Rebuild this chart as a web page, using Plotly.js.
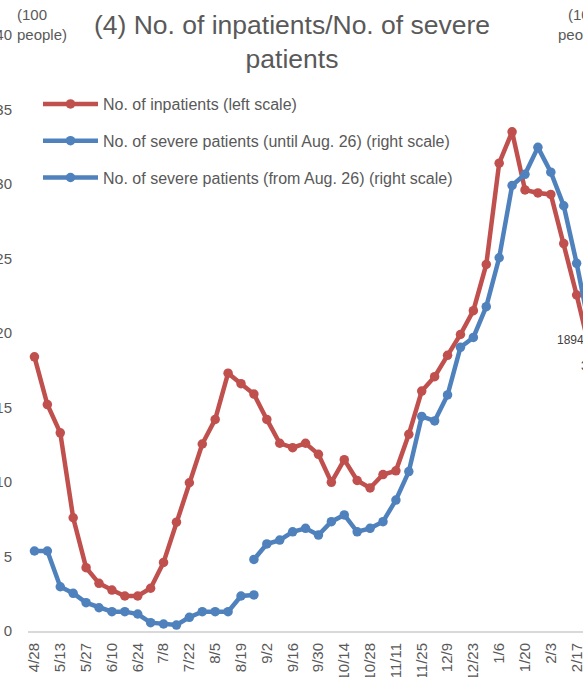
<!DOCTYPE html>
<html>
<head>
<meta charset="utf-8">
<script src="https://cdn.plot.ly/plotly-3.0.1.min.js"></script>
<style>
html,body{margin:0;padding:0;width:583px;height:677px;overflow:hidden;background:#fff;}
#chart{position:absolute;left:-30px;top:0;width:686px;height:677px;}
</style>
</head>
<body>
<div id="chart"></div>
<script>
// Weekly dates (every other one is labelled on the axis)
const weeks = ["4/28","5/6","5/13","5/20","5/27","6/3","6/10","6/17","6/24","7/1","7/8","7/15","7/22","7/29","8/5","8/12","8/19","8/26","9/2","9/9","9/16","9/23","9/30","10/7","10/14","10/21","10/28","11/4","11/11","11/18","11/25","12/2","12/9","12/16","12/23","12/30","1/6","1/13","1/20","1/27","2/3","2/10","2/17","2/24"];
const tickLabels = ["4/28","5/13","5/27","6/10","6/24","7/8","7/22","8/5","8/19","9/2","9/16","9/30","10/14","10/28","11/11","11/25","12/9","12/23","1/6","1/20","2/3","2/17"];

// No. of inpatients (left scale, 100 people)
const inpatients = [18.4,15.2,13.3,7.6,4.25,3.2,2.75,2.35,2.35,2.87,4.6,7.3,9.95,12.55,14.2,17.3,16.6,15.9,14.2,12.6,12.3,12.6,11.86,9.98,11.5,10.1,9.6,10.5,10.75,13.2,16.1,17.07,18.5,19.9,21.5,24.6,31.4,33.5,29.6,29.4,29.3,26.0,22.55,18.94];
// No. of severe patients (right scale)
const severeUntil = [5.37,5.37,2.97,2.53,1.9,1.56,1.3,1.3,1.14,0.56,0.47,0.4,0.92,1.3,1.3,1.3,2.35,2.42];
const severeFrom = [4.8,5.84,6.1,6.66,6.89,6.44,7.34,7.79,6.66,6.89,7.34,8.79,10.7,14.4,14.1,15.84,19.04,19.7,21.77,25.05,29.9,30.65,32.46,30.79,28.54,24.68,20.3];
const severeFromStart = 17;

const RED = "#c0504d", BLUE = "#4f81bd", TXT = "#595959";
const FONT = "Liberation Sans, Arial, sans-serif";

const untilY = weeks.map((d,i)=> i < severeUntil.length ? severeUntil[i] : null);
const fromY = weeks.map((d,i)=> i >= severeFromStart ? severeFrom[i-severeFromStart] : null);

const traces = [
  {x: weeks, y: inpatients, name: "No. of inpatients (left scale)", type: "scatter", mode: "lines+markers",
   line: {color: RED, width: 4.5}, marker: {color: RED, size: 9.5}, legendgroup: "a"},
  {x: weeks, y: untilY, name: "No. of severe patients (until Aug. 26) (right scale)", type: "scatter", mode: "lines+markers",
   yaxis: "y2", line: {color: BLUE, width: 4.5}, marker: {color: BLUE, size: 9.5}, connectgaps: false, legendgroup: "b"},
  {x: weeks, y: fromY, name: "No. of severe patients (from Aug. 26) (right scale)", type: "scatter", mode: "lines+markers",
   yaxis: "y2", line: {color: BLUE, width: 4.5}, marker: {color: BLUE, size: 9.5}, connectgaps: false, legendgroup: "c"}
];

const OFF = 30, L = 58, R = 60, T = 35, B = 46, W = 686, H = 677;
const PW = W - L - R, PH = H - T - B;
const px = p => (p + OFF - L) / PW;          // page x -> paper x
const py = p => (T + PH - p) / PH;           // page y -> paper y

const layout = {
  width: W, height: H,
  margin: {l: L, r: R, t: T, b: B, pad: 0},
  paper_bgcolor: "#fff", plot_bgcolor: "#fff",
  font: {family: FONT, color: TXT},
  title: {text: "(4) No. of inpatients/No. of severe<br>patients", font: {size: 26.5, color: TXT, family: FONT},
          x: (292 + OFF) / W, xanchor: "center", xref: "container", y: 1 - 34 / H, yanchor: "top", yref: "container"},
  showlegend: true,
  legend: {x: px(38), xanchor: "left", y: py(87), yanchor: "top", font: {size: 16, color: TXT, family: FONT},
           bgcolor: "rgba(0,0,0,0)", traceorder: "grouped", tracegroupgap: 13, itemwidth: 55},
  xaxis: {type: "category", range: [-0.5, weeks.length - 0.5], tickmode: "array", tickvals: tickLabels, ticktext: tickLabels,
          tickangle: -90, ticks: "", showgrid: false, zeroline: false, showline: true, linecolor: "#d9d9d9", linewidth: 2,
          tickfont: {size: 15, color: TXT}, ticklabelstandoff: 4},
  yaxis: {range: [0, 40], dtick: 5, showgrid: false, zeroline: false, showline: false, ticks: "",
          tickfont: {size: 15, color: TXT}, ticklabelstandoff: 15},
  yaxis2: {range: [0, 40], dtick: 5, overlaying: "y", side: "right", showgrid: false, zeroline: false, showline: false, ticks: "",
           tickfont: {size: 15, color: TXT}, ticklabelstandoff: 14},
  annotations: [
    {text: "(100<br>people)", xref: "paper", yref: "paper", x: px(15), y: py(4), xanchor: "left", yanchor: "top",
     align: "left", showarrow: false, font: {size: 15, color: TXT}},
    {text: "(100<br>people)", xref: "paper", yref: "paper", x: px(583), y: py(4), xanchor: "center", yanchor: "top",
     align: "center", showarrow: false, font: {size: 15, color: TXT}},
    {text: String(Math.round(inpatients[inpatients.length-1]*100)), xref: "x", yref: "y", x: weeks[weeks.length-1], y: inpatients[inpatients.length-1],
     xanchor: "right", yanchor: "middle", xshift: -4, yshift: 9, showarrow: false, font: {size: 12, color: "#404040"}},
    {text: "3", xref: "x", yref: "y2", x: weeks[weeks.length-1], y: severeFrom[severeFrom.length-1],
     xanchor: "left", yanchor: "middle", xshift: -11, yshift: -37, showarrow: false, font: {size: 12, color: "#404040"}}
  ]
};

Plotly.newPlot("chart", traces, layout, {staticPlot: true, displayModeBar: false});
</script>
</body>
</html>
